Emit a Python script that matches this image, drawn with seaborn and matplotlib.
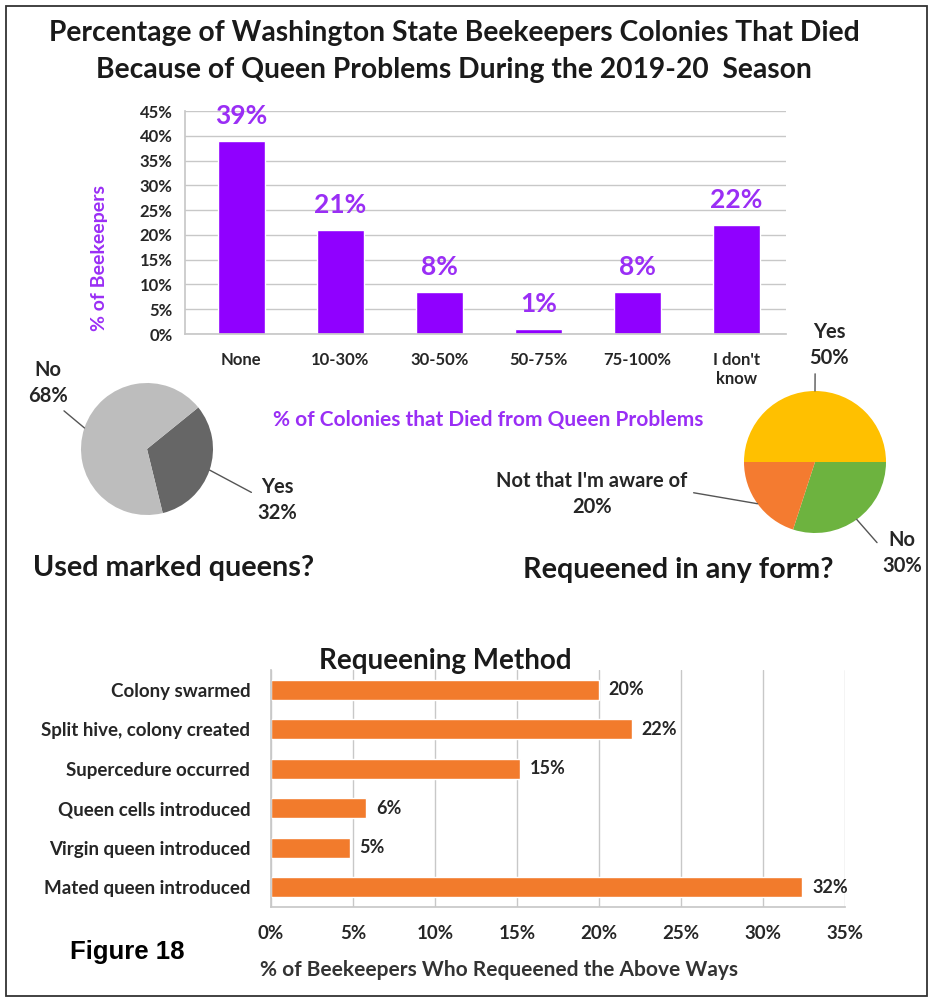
import matplotlib
matplotlib.use("Agg")
import matplotlib.pyplot as plt
import seaborn as sns
import pandas as pd
import numpy as np
from matplotlib.patches import Rectangle

# ---------------- data ----------------
died_categories = ["None", "10-30%", "30-50%", "50-75%", "75-100%", "I don't\nknow"]
died_values = [39, 21, 8.5, 1, 8.5, 22]
died_labels = ["39%", "21%", "8%", "1%", "8%", "22%"]
died_ticks = [0, 5, 10, 15, 20, 25, 30, 35, 40, 45]

marked_labels = ["Yes", "No"]
marked_values = [32, 68]

requeened_labels = ["Yes", "No", "Not that I'm aware of"]
requeened_values = [50, 30, 20]

method_categories = ["Colony swarmed", "Split hive, colony created", "Supercedure occurred",
                     "Queen cells introduced", "Virgin queen introduced", "Mated queen introduced"]
method_values = [20, 22, 15.2, 5.8, 4.8, 32.4]
method_labels = ["20%", "22%", "15%", "6%", "5%", "32%"]
method_ticks = [0, 5, 10, 15, 20, 25, 30, 35]

# ---------------- style ----------------
sns.set_theme(style="white")
plt.rcParams["font.family"] = ["Lato", "DejaVu Sans"]
plt.rcParams["font.weight"] = "bold"

PURPLE = "#9000FF"
PURPLE_TXT = "#9A2EF5"
ORANGE = "#F27B2C"
DARK = "#262626"
GRID = "#C8C8C8"

W, H = 932, 1000
fig = plt.figure(figsize=(W / 100, H / 100), dpi=100)
fig.patch.set_facecolor("white")


def px_axes(l, t, r, b):
    return fig.add_axes([l / W, 1 - b / H, (r - l) / W, (b - t) / H])


def fp(x, y):
    return (x, H - y)


# border
fig.add_artist(Rectangle((6 / W, 4 / H), (927 - 6) / W, (996 - 6) / H, transform=fig.transFigure,
                         fill=False, edgecolor="#333333", linewidth=1.3))

# title
fig.text(454 / W, 1 - 33 / H, "Percentage of Washington State Beekeepers Colonies That Died",
         ha="center", va="center", fontsize=20.3, fontweight="bold", color="#1a1a1a")
fig.text(454 / W, 1 - 70 / H, "Because of Queen Problems During the 2019-20  Season",
         ha="center", va="center", fontsize=20.3, fontweight="bold", color="#1a1a1a")

# ---------------- top bar chart ----------------
ax1 = px_axes(185, 111, 786, 334)
df1 = pd.DataFrame({"cat": died_categories, "val": died_values})
sns.barplot(data=df1, x="cat", y="val", color=PURPLE, saturation=1, width=0.48,
            errorbar=None, ax=ax1)
ax1.set_ylim(0, 45)
ax1.set_xlim(-0.57, 5.5)
ax1.set_yticks(died_ticks)
ax1.set_yticklabels([f"{t}%" for t in died_ticks])
ax1.yaxis.grid(True, color=GRID, linewidth=1)
ax1.set_axisbelow(True)
for s in ["top", "right"]:
    ax1.spines[s].set_visible(False)
for s in ["left", "bottom"]:
    ax1.spines[s].set_color(GRID)
ax1.tick_params(axis="y", length=0, labelsize=12, pad=9, labelcolor=DARK)
ax1.tick_params(axis="x", length=0, labelsize=12, pad=13, labelcolor=DARK)
for lab in ax1.get_xticklabels() + ax1.get_yticklabels():
    lab.set_fontweight("bold")
ax1.set_xlabel("")
ax1.set_ylabel("% of Beekeepers", color=PURPLE_TXT, fontsize=14, fontweight="bold")
ax1.yaxis.set_label_coords(-0.128, 0.34)
for p, lab in zip(ax1.patches, died_labels):
    ax1.annotate(lab, (p.get_x() + p.get_width() / 2, p.get_height()), xytext=(0, 18),
                 textcoords="offset points", ha="center", va="center",
                 fontsize=19, fontweight="bold", color=PURPLE_TXT)
fig.text(488 / W, 1 - 420 / H, "% of Colonies that Died from Queen Problems",
         ha="center", va="center", fontsize=15, fontweight="bold", color=PURPLE_TXT)

# ---------------- left pie ----------------
cx, cy, r = 147, 449, 66
ax2 = px_axes(cx - r, cy - r, cx + r, cy + r)
wedges, _ = ax2.pie(marked_values, colors=["#666666", "#BDBDBD"], startangle=39,
                    counterclock=False, radius=1, wedgeprops=dict(linewidth=0))
ax2.set_xlim(-1, 1)
ax2.set_ylim(-1, 1)
ax2.set_aspect("equal")
ax2.axis("off")

pie_label_pos = {"Yes": (277, 500, (0, 0.6)), "No": (48, 383, (0.75, 0.0))}
for w, lab, v in zip(wedges, marked_labels, marked_values):
    ang = np.deg2rad((w.theta1 + w.theta2) / 2)
    tx, ty, rel = pie_label_pos[lab]
    ax2.annotate(f"{lab}\n{v}%", xy=(np.cos(ang), np.sin(ang)), xycoords="data",
                 xytext=fp(tx, ty), textcoords="figure pixels", ha="center", va="center",
                 fontsize=14.5, fontweight="bold", color=DARK, linespacing=1.35,
                 arrowprops=dict(arrowstyle="-", color="#555555", lw=1, relpos=rel,
                                 shrinkA=2, shrinkB=0))
fig.text(33 / W, 1 - 568 / H, "Used marked queens?", ha="left", va="center",
         fontsize=20.7, fontweight="bold", color="#1a1a1a")

# ---------------- right pie ----------------
cx, cy, r = 815, 462, 71
ax3 = px_axes(cx - r, cy - r, cx + r, cy + r)
wedges, _ = ax3.pie(requeened_values, colors=["#FFC000", "#6DB33F", "#F47B30"], startangle=180,
                    counterclock=False, radius=1, wedgeprops=dict(linewidth=0))
ax3.set_xlim(-1, 1)
ax3.set_ylim(-1, 1)
ax3.set_aspect("equal")
ax3.axis("off")
pie_label_pos = {"Yes": (829, 345, (0.15, 0.0)), "No": (902, 553, (0.0, 0.6)),
                 "Not that I'm aware of": (592, 494, (1.0, 0.55))}
for w, lab, v in zip(wedges, requeened_labels, requeened_values):
    ang = np.deg2rad((w.theta1 + w.theta2) / 2)
    tx, ty, rel = pie_label_pos[lab]
    ax3.annotate(f"{lab}\n{v}%", xy=(np.cos(ang), np.sin(ang)), xycoords="data",
                 xytext=fp(tx, ty), textcoords="figure pixels", ha="center", va="center",
                 fontsize=14.5, fontweight="bold", color=DARK, linespacing=1.35,
                 arrowprops=dict(arrowstyle="-", color="#555555", lw=1, relpos=rel,
                                 shrinkA=2, shrinkB=0))
fig.text(523 / W, 1 - 570 / H, "Requeened in any form?", ha="left", va="center",
         fontsize=20.7, fontweight="bold", color="#1a1a1a")

# ---------------- bottom bar chart ----------------
fig.text(445 / W, 1 - 661 / H, "Requeening Method", ha="center", va="center",
         fontsize=20, fontweight="bold", color="#1a1a1a")
ax4 = px_axes(271, 670, 845, 907)
df4 = pd.DataFrame({"cat": method_categories, "val": method_values})
sns.barplot(data=df4, y="cat", x="val", color=ORANGE, saturation=1, width=0.5,
            errorbar=None, orient="h", ax=ax4)
ax4.set_xlim(0, 35)
ax4.set_ylim(5.5, -0.5)
ax4.set_xticks(method_ticks)
ax4.set_xticklabels([f"{t}%" for t in method_ticks])
ax4.xaxis.grid(True, color=GRID, linewidth=1)
ax4.set_axisbelow(True)
for s in ["top", "right"]:
    ax4.spines[s].set_visible(False)
for s in ["left", "bottom"]:
    ax4.spines[s].set_color(GRID)
ax4.tick_params(axis="y", length=0, labelsize=13.5, pad=15, labelcolor=DARK)
ax4.tick_params(axis="x", length=0, labelsize=13.5, pad=13, labelcolor=DARK)
for lab in ax4.get_xticklabels() + ax4.get_yticklabels():
    lab.set_fontweight("bold")
ax4.set_xlabel("")
ax4.set_ylabel("")
for p, lab in zip(ax4.patches, method_labels):
    ax4.annotate(lab, (p.get_width(), p.get_y() + p.get_height() / 2), xytext=(7, 0),
                 textcoords="offset points", ha="left", va="center",
                 fontsize=13, fontweight="bold", color=DARK)
fig.text(499 / W, 1 - 970 / H, "% of Beekeepers Who Requeened the Above Ways",
         ha="center", va="center", fontsize=15, fontweight="bold", color="#333333")

fig.text(70 / W, 1 - 952 / H, "Figure 18", ha="left", va="center",
         fontsize=18.5, fontweight="bold", color="black", family=["Liberation Sans", "DejaVu Sans"])

fig.savefig("out.png", dpi=100, facecolor="white")
